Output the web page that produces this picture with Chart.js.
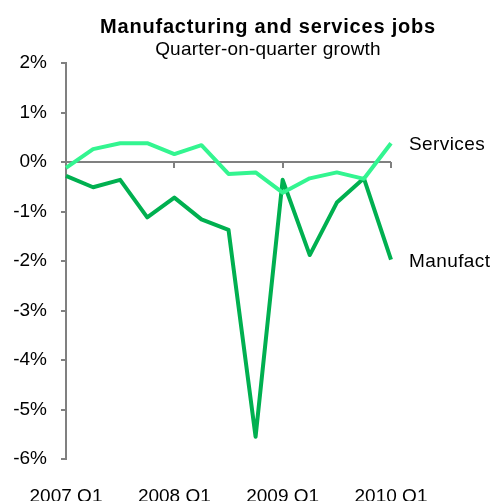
<!DOCTYPE html>
<html>
<head>
<meta charset="utf-8">
<script src="https://cdn.jsdelivr.net/npm/chart.js@4/dist/chart.umd.min.js"></script>
<style>
  html, body { margin: 0; padding: 0; background: #ffffff; }
  #wrap { width: 494px; height: 501px; }
</style>
</head>
<body>
<div id="wrap"><canvas id="jobsChart" width="494" height="501"></canvas></div>
<script>
// dados (% trimestre a trimestre)
const trimestres = ['2007 Q1', '2007 Q2', '2007 Q3', '2007 Q4',
                    '2008 Q1', '2008 Q2', '2008 Q3', '2008 Q4',
                    '2009 Q1', '2009 Q2', '2009 Q3', '2009 Q4',
                    '2010 Q1'];
const servicos    = [-0.12, 0.26, 0.38, 0.38, 0.16, 0.34, -0.24, -0.21, -0.62, -0.33, -0.21, -0.34, 0.38];
const manufatura  = [-0.28, -0.51, -0.36, -1.12, -0.72, -1.16, -1.37, -5.55, -0.36, -1.88, -0.82, -0.33, -1.97];
const nomesSeries = ['Services', 'Manufact'];
const yTicks      = [2, 1, 0, -1, -2, -3, -4, -5, -6];

const FONTE = '"Liberation Sans", Arial, sans-serif';
const CINZA = '#808080';

// título, subtítulo, rótulos das séries e marcas do eixo x no zero
const extrasPlugin = {
    id: 'extras',
    afterDraw(chart) {
        const ctx = chart.ctx;
        const x = chart.scales.x;
        const y = chart.scales.y;
        ctx.save();

        ctx.fillStyle = '#000000';
        ctx.textAlign = 'center';
        ctx.textBaseline = 'middle';
        ctx.font = 'bold 20px ' + FONTE;
        ctx.letterSpacing = '0.8px';
        ctx.fillText('Manufacturing and services jobs', 268, 27);
        ctx.font = '19px ' + FONTE;
        ctx.letterSpacing = '0.2px';
        ctx.fillText('Quarter-on-quarter growth', 268, 50);
        ctx.letterSpacing = '0px';

        // marcas para baixo na linha do zero
        const y0 = y.getPixelForValue(0);
        ctx.strokeStyle = CINZA;
        ctx.lineWidth = 2;
        for (let i = 4; i < trimestres.length; i += 4) {
            const px = Math.round(x.getPixelForValue(i));
            ctx.beginPath();
            ctx.moveTo(px, y0);
            ctx.lineTo(px, y0 + 6);
            ctx.stroke();
        }

        // rótulos à direita
        ctx.textAlign = 'left';
        ctx.font = '19px ' + FONTE;
        ctx.letterSpacing = '0.4px';
        ctx.fillStyle = '#000000';
        chart.data.datasets.forEach((ds, i) => {
            const last = ds.data.length - 1;
            const py = y.getPixelForValue(ds.data[last]);
            ctx.fillText(nomesSeries[i], chart.chartArea.right + 18, py + 2);
        });
        ctx.restore();
    }
};

function initChart() {
    const ctx = document.getElementById('jobsChart').getContext('2d');
    return new Chart(ctx, {
        type: 'line',
        data: {
            labels: trimestres,
            datasets: [{
                label: nomesSeries[0],
                data: servicos,
                borderColor: '#33f590',
                borderWidth: 4,
                borderJoinStyle: 'round',
                pointRadius: 0,
                tension: 0
            }, {
                label: nomesSeries[1],
                data: manufatura,
                borderColor: '#00b050',
                borderWidth: 4,
                borderJoinStyle: 'round',
                pointRadius: 0,
                tension: 0
            }]
        },
        options: {
            responsive: false,
            animation: false,
            devicePixelRatio: 1,
            layout: { padding: { top: 63, right: 103, left: 0, bottom: 0 } },
            plugins: {
                legend: { display: false },
                title: { display: false },
                tooltip: { enabled: false }
            },
            scales: {
                x: {
                    type: 'category',
                    offset: false,
                    grid: { display: false },
                    border: { display: false },
                    ticks: {
                        autoSkip: false,
                        maxRotation: 0,
                        padding: 18,
                        color: '#000000',
                        font: { family: FONTE, size: 19 },
                        callback: (v, i) => (i % 4 === 0 ? trimestres[i] : '')
                    },
                    afterFit: s => { s.height = 42; }
                },
                y: {
                    min: yTicks[yTicks.length - 1],
                    max: yTicks[0],
                    border: { display: true, color: CINZA, width: 2 },
                    grid: {
                        color: c => (c.tick && c.tick.value === 0 ? CINZA : 'rgba(0,0,0,0)'),
                        tickColor: CINZA,
                        tickLength: 5,
                        lineWidth: 2
                    },
                    ticks: {
                        stepSize: 1,
                        padding: 14,
                        color: '#000000',
                        font: { family: FONTE, size: 19 },
                        callback: v => v + '%'
                    },
                    afterFit: s => { s.width = 66; }
                }
            }
        },
        plugins: [extrasPlugin]
    });
}

document.addEventListener('DOMContentLoaded', () => {
    initChart();
});
</script>
</body>
</html>
